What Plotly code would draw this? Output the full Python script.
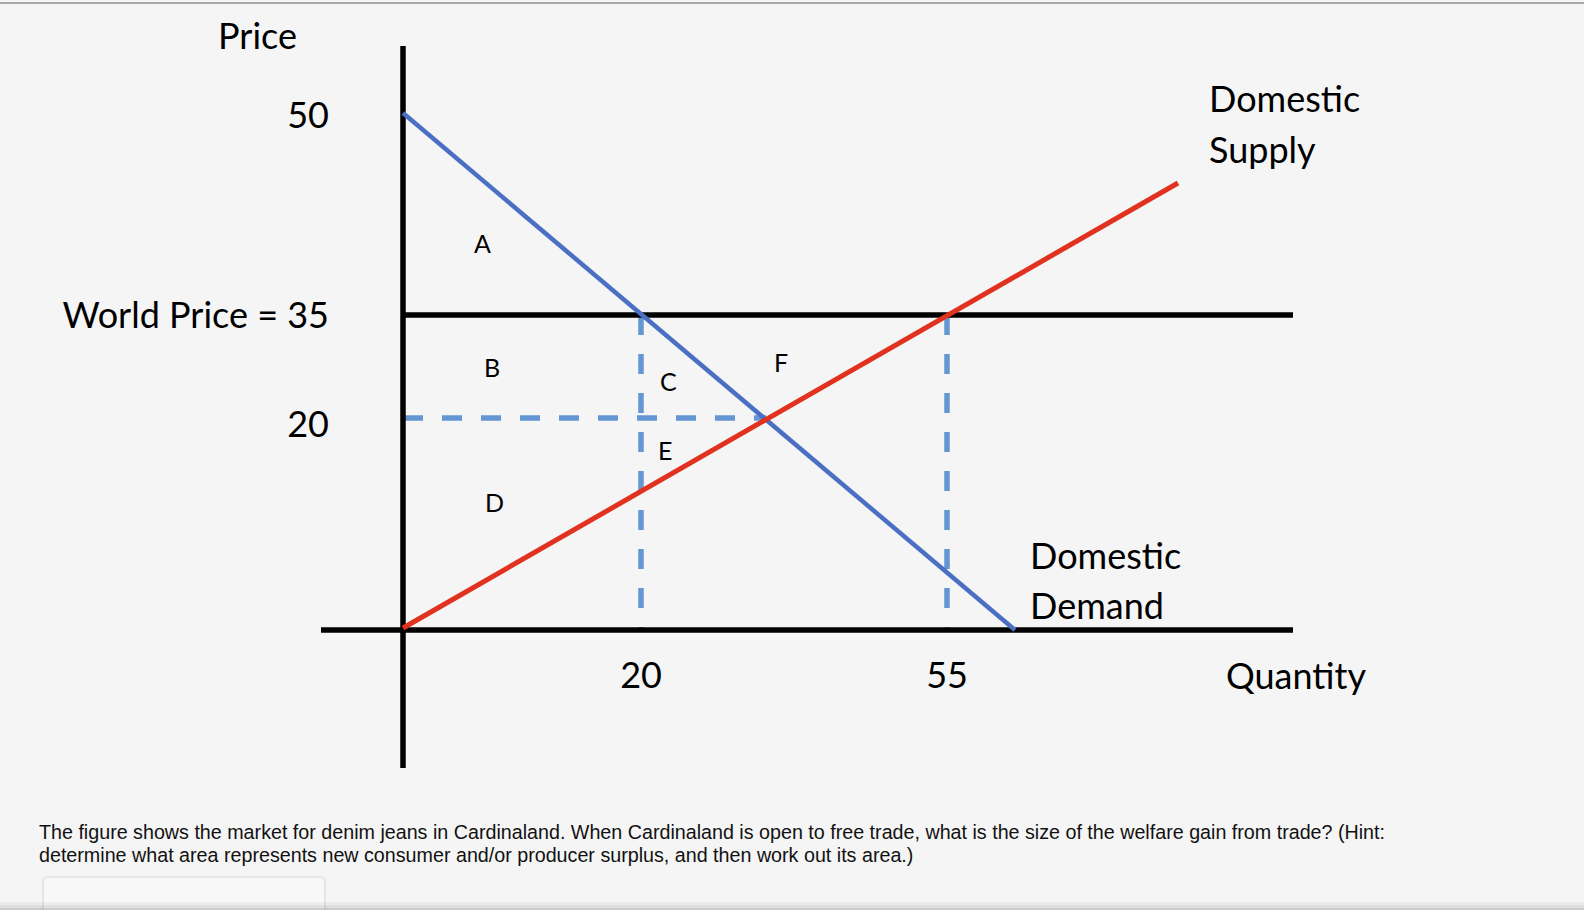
import plotly.graph_objects as go

# ---- schematic diagram data (diagram units, origin at the axes' corner) ----
demand_q = [0, 612]
demand_p = [517, 0]
supply_q = [0, 775]
supply_p = [2, 447]
world_price = 315
world_q = [0, 890]
q_axis_extent = [-82, 890]
p_axis_extent = [-138, 584]
qd_world = 238      # quantity demanded at world price (labelled 20)
qs_world = 544      # quantity supplied at world price (labelled 55)
eq_q = 363          # domestic equilibrium quantity
eq_p = 212          # domestic equilibrium price (labelled 20)

q_tick_vals = [qd_world, qs_world]
q_tick_text = ["20", "55"]
p_tick_vals = [515, world_price, 206]
p_tick_text = ["50", "World Price = 35", "20"]

area_labels = ["A", "B", "C", "E", "D", "F"]
area_q = [79, 89, 265, 262, 91, 378]
area_p = [387, 263, 249, 180, 128, 268]

question = [
    "The figure shows the market for denim jeans in Cardinaland. When Cardinaland is open to free trade, what is the size of the welfare gain from trade? (Hint:",
    "determine what area represents new consumer and/or producer surplus, and then work out its area.)",
]

W, H = 1584, 910
X0, Y0 = 403, 630   # pixel position of the diagram origin
BG = "#f5f5f5"
BLUE = "#4a6fc3"
DASH_BLUE = "#6396d3"
RED = "#e1311f"
FONT = "Lato"

fig = go.Figure()

dash_style = dict(color=DASH_BLUE, width=5.5, dash="20px,19px")
fig.add_trace(go.Scatter(x=[qd_world, qd_world], y=[world_price, 0], mode="lines", line=dash_style))
fig.add_trace(go.Scatter(x=[qs_world, qs_world], y=[world_price, 0], mode="lines", line=dash_style))
fig.add_trace(go.Scatter(x=[0, eq_q], y=[eq_p, eq_p], mode="lines", line=dash_style))

black = dict(color="black", width=5.5)
fig.add_trace(go.Scatter(x=[0, 0], y=p_axis_extent, mode="lines", line=black))
fig.add_trace(go.Scatter(x=q_axis_extent, y=[0, 0], mode="lines", line=black))
fig.add_trace(go.Scatter(x=world_q, y=[world_price, world_price], mode="lines", line=black))

fig.add_trace(go.Scatter(x=demand_q, y=demand_p, mode="lines", line=dict(color=BLUE, width=4.5)))
fig.add_trace(go.Scatter(x=supply_q, y=supply_p, mode="lines", line=dict(color=RED, width=5)))

big = dict(family=FONT, size=36, color="black")
small = dict(family=FONT, size=25, color="black")

ann = []
def px(xp, yp):
    return xp - X0, Y0 - yp

x, y = px(257, 35)
ann.append(dict(x=x, y=y, text="Price", font=big))
x, y = px(1296, 675)
ann.append(dict(x=x, y=y, text="Quantity", font=big))
for txt, (xp, yp) in [("Domestic", (1207, 98)), ("Supply", (1207, 149)),
                      ("Domestic", (1028, 555)), ("Demand", (1028, 605))]:
    x, y = px(xp, yp)
    ann.append(dict(x=x, y=y, text=txt, font=big, xanchor="left"))
for t, q, p in zip(area_labels, area_q, area_p):
    ann.append(dict(x=q, y=p, text=t, font=small))
for a in ann:
    a.setdefault("xanchor", "center")
    a.update(xref="x", yref="y", yanchor="middle", showarrow=False)

qfont = dict(family="Liberation Sans", size=19.7, color="#111111")
ann.append(dict(xref="paper", yref="paper", x=37 / W, y=1 - 832 / H, xanchor="left", yanchor="middle",
                text=question[0], showarrow=False, font=qfont))
ann.append(dict(xref="paper", yref="paper", x=37 / W, y=1 - 855 / H, xanchor="left", yanchor="middle",
                text=question[1], showarrow=False, font=qfont))

# answer box (rounded) and page chrome
bx0, bx1, by0, by1, r = 43 - X0, 325 - X0, Y0 - 877, Y0 - 930, 5
box_path = (f"M {bx0 + r},{by0} L {bx1 - r},{by0} Q {bx1},{by0} {bx1},{by0 - r} "
            f"L {bx1},{by1} L {bx0},{by1} L {bx0},{by0 - r} Q {bx0},{by0} {bx0 + r},{by0} Z")
shapes = [
    dict(type="path", xref="x", yref="y", path=box_path, fillcolor="#f8f8f8",
         line=dict(color="#d9d9d9", width=1.2), layer="below"),
    dict(type="line", xref="paper", yref="paper", x0=0, x1=1, y0=1 - 3 / H, y1=1 - 3 / H,
         line=dict(color="#a8a8a8", width=2)),
    dict(type="rect", xref="paper", yref="paper", x0=0, x1=1, y0=0, y1=8 / H,
         fillcolor="rgba(0,0,0,0.04)", line=dict(width=0)),
    dict(type="rect", xref="paper", yref="paper", x0=0, x1=1, y0=0, y1=5 / H,
         fillcolor="rgba(0,0,0,0.06)", line=dict(width=0)),
    dict(type="rect", xref="paper", yref="paper", x0=0, x1=1, y0=0, y1=2 / H,
         fillcolor="rgba(0,0,0,0.08)", line=dict(width=0)),
]

fig.update_layout(
    width=W, height=H, autosize=False,
    margin=dict(l=0, r=0, t=0, b=0, pad=0),
    paper_bgcolor=BG, plot_bgcolor=BG,
    showlegend=False,
    hovermode=False,
    annotations=ann,
    shapes=shapes,
    xaxis=dict(range=[-X0, W - X0], domain=[0, 1], anchor="free", position=(H - Y0) / H,
               showgrid=False, zeroline=False, showline=False, ticks="",
               tickmode="array", tickvals=q_tick_vals, ticktext=q_tick_text,
               tickfont=big, ticklabelstandoff=21),
    yaxis=dict(range=[Y0 - H, Y0], domain=[0, 1], anchor="free", position=X0 / W,
               showgrid=False, zeroline=False, showline=False, ticks="",
               tickmode="array", tickvals=p_tick_vals, ticktext=p_tick_text,
               tickfont=big, ticklabelstandoff=74),
)

fig.write_html(
    "out.html",
    config={"displayModeBar": False, "staticPlot": True},
    post_script="document.body.style.margin='0';document.body.style.background='%s';" % BG,
)
